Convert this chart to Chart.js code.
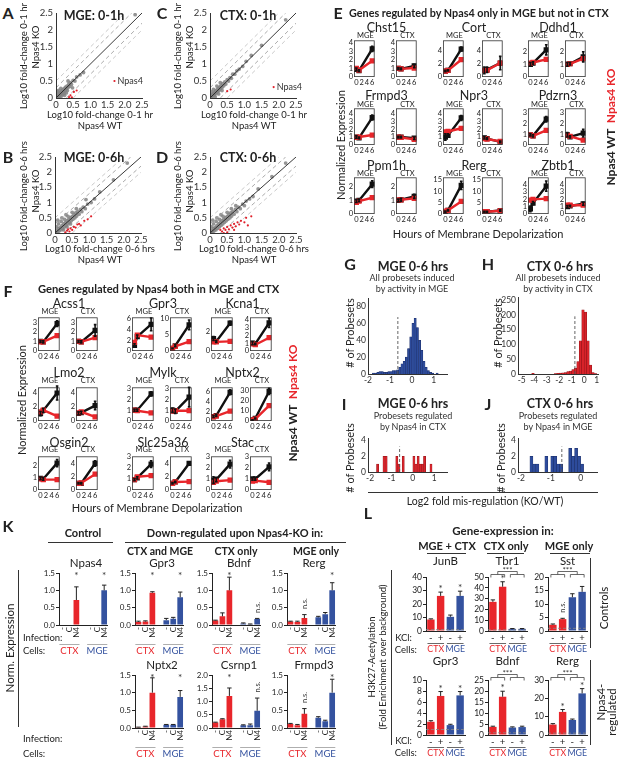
<!DOCTYPE html>
<html><head><meta charset="utf-8">
<script src="https://cdn.jsdelivr.net/npm/chart.js@4.4.0/dist/chart.umd.min.js"></script>
<style>
html,body{margin:0;padding:0;background:#fff;width:622px;height:761px;overflow:hidden;position:relative;}
.t{position:absolute;white-space:nowrap;line-height:1;}
canvas{position:absolute;}
.ln{position:absolute;background:#333;}
</style></head><body>
<script>
const FONT = "Lato, 'Open Sans', sans-serif";
const RED = '#e8262b', BLUE = '#34529f', BLK = '#111';

// ================= DATA =================
// A-D scatter (Log10 fold-change KO vs WT)
const scatterTicks = [0, 0.5, 1, 1.5, 2, 2.5];
const refOffsets = [0.3, -0.3, 0.5, -0.5];
const aGrey = [[0.01,0.02],[0.03,0.06],[0.05,0.03],[0.06,0.1],[0.08,0.06],[0.1,0.12],[0.1,0.03],[0.12,0.16],[0.13,0.09],[0.15,0.13],[0.16,0.2],[0.18,0.15],[0.2,0.1],[0.2,0.24],[0.22,0.19],[0.24,0.28],[0.25,0.15],[0.27,0.23],[0.28,0.32],[0.3,0.27],[0.32,0.35],[0.33,0.22],[0.35,0.31],[0.37,0.4],[0.4,0.34],[0.42,0.45],[0.45,0.4],[0.5,0.52],[0.55,0.5],[0.02,0.14],[0.04,0.2],[0.08,0.22],[0.14,0.28],[0.06,0.0],[0.15,0.05],[0.25,0.08],[0.3,0.15],[0.6,0.62],[0.7,0.68],[0.35,0.5],[0.48,0.3],[0.8,0.75],[2.3,2.45]];
const aRed = [[1.7,0.5],[0.38,0.03],[0.42,0.08],[0.46,0.02],[0.52,0.18],[0.6,0.22]];
const bGrey = [[0.02,0.02],[0.05,0.08],[0.08,0.03],[0.1,0.14],[0.12,0.07],[0.15,0.18],[0.17,0.1],[0.2,0.24],[0.22,0.15],[0.25,0.3],[0.27,0.2],[0.3,0.34],[0.32,0.25],[0.35,0.4],[0.37,0.3],[0.4,0.45],[0.42,0.35],[0.45,0.5],[0.47,0.4],[0.5,0.55],[0.52,0.45],[0.55,0.6],[0.58,0.5],[0.6,0.66],[0.63,0.56],[0.66,0.7],[0.7,0.62],[0.74,0.78],[0.78,0.7],[0.82,0.85],[0.88,0.8],[0.95,0.95],[1.05,1.0],[1.15,1.12],[0.05,0.2],[0.1,0.3],[0.18,0.38],[0.28,0.45],[0.38,0.55],[0.5,0.68],[0.62,0.8],[0.08,0.42],[0.2,0.5],[0.32,0.6],[0.25,0.1],[0.35,0.2],[0.45,0.3],[1.3,1.35],[2.1,2.3],[1.7,1.75],[0.9,1.1]];
const bRed = [[0.3,0.02],[0.35,0.08],[0.38,0.12],[0.42,0.05],[0.45,0.15],[0.5,0.1],[0.55,0.2],[0.6,0.18],[0.65,0.28],[0.7,0.3],[0.75,0.25],[0.85,0.4],[0.95,0.45],[1.05,0.55]];
const cGrey = [[0.01,0.02],[0.03,0.06],[0.05,0.03],[0.06,0.1],[0.08,0.06],[0.1,0.12],[0.12,0.16],[0.13,0.09],[0.15,0.13],[0.16,0.2],[0.18,0.15],[0.2,0.24],[0.22,0.19],[0.24,0.28],[0.26,0.22],[0.28,0.32],[0.3,0.27],[0.32,0.36],[0.35,0.31],[0.37,0.42],[0.4,0.36],[0.43,0.47],[0.46,0.41],[0.5,0.54],[0.54,0.5],[0.58,0.6],[0.62,0.58],[0.66,0.7],[0.72,0.7],[0.78,0.8],[0.85,0.85],[0.95,0.93],[1.05,1.08],[0.04,0.18],[0.1,0.25],[0.2,0.35],[0.3,0.45],[0.15,0.04],[0.25,0.12],[0.35,0.22],[1.2,1.25],[1.5,1.55],[2.2,2.3]];
const cRed = [[1.85,0.32],[0.5,0.2],[0.6,0.25]];
const dGrey = [[0.02,0.02],[0.05,0.08],[0.08,0.03],[0.1,0.14],[0.12,0.07],[0.15,0.18],[0.17,0.1],[0.2,0.24],[0.22,0.15],[0.25,0.3],[0.27,0.2],[0.3,0.34],[0.32,0.25],[0.35,0.4],[0.37,0.3],[0.4,0.45],[0.42,0.35],[0.45,0.5],[0.47,0.4],[0.5,0.55],[0.52,0.45],[0.55,0.6],[0.58,0.5],[0.6,0.66],[0.63,0.56],[0.66,0.7],[0.7,0.62],[0.74,0.78],[0.78,0.7],[0.82,0.85],[0.88,0.8],[0.95,0.95],[1.0,0.9],[1.05,1.05],[1.15,1.12],[1.25,1.2],[0.05,0.2],[0.1,0.3],[0.18,0.38],[0.28,0.45],[0.38,0.55],[0.5,0.68],[0.62,0.8],[0.75,0.9],[0.08,0.42],[0.2,0.5],[0.32,0.6],[1.4,1.45],[1.8,1.85],[2.2,2.3]];
const dRed = [[0.3,0.1],[0.35,0.05],[0.4,0.15],[0.45,0.1],[0.5,0.2],[0.55,0.12],[0.6,0.25],[0.65,0.18],[0.7,0.3],[0.75,0.22],[0.8,0.35],[0.85,0.28],[0.9,0.4],[1.0,0.35],[1.05,0.5],[1.2,0.55],[0.5,0.02],[0.4,0.0],[0.7,0.1],[1.1,0.25]];
const npas4A = [1.7, 0.5];
const npas4C = [1.85, 0.32];

// E / F time courses
const hours = [0, 1, 6];
const hourTicks = [0, 2, 4, 6];
const eGenes = ['Chst15','Cort','Ddhd1','Frmpd3','Npr3','Pdzrn3','Ppm1h','Rerg','Zbtb1'];
const eYMax = [4.3, 5.5, 2.9, 4.6, 4.6, 3.4, 2.7, 16, 5];
const eYTicks = [[0,1,2,3,4],[0,2,4],[0,1,2],[0,1,2,3,4],[0,1,2,3,4],[0,1,2,3],[0,1,2],[0,5,10,15],[0,1,2,3,4]];
const eMgeWT = [[0.9,0.75,3.3],[0.9,1.0,4.2],[1.0,1.1,2.15],[1.0,0.9,3.45],[1.0,1.2,3.4],[0.95,0.85,2.4],[0.95,1.0,2.2],[1.0,1.6,12.5],[0.7,1.5,3.8]];
const eMgeKO = [[1.0,0.8,1.9],[0.9,1.0,2.6],[1.1,1.15,1.4],[0.95,1.0,1.25],[1.65,1.7,2.1],[0.95,0.85,1.35],[0.85,0.95,1.2],[1.3,1.6,5.5],[1.9,2.0,2.1]];
const eMgeWTErr = [[0.15,0.1,0.3],[0.1,0.1,0.3],[0.15,0.1,0.4],[0.15,0.1,0.3],[0.4,0.2,0.3],[0.1,0.1,0.25],[0.1,0.1,0.25],[0.3,0.3,1.8],[0.4,0.2,0.7]];
const eCtxWT = [[1.0,0.95,1.3],[1.0,1.1,2.1],[1.0,1.05,1.6],[1.0,1.0,0.85],[0.9,0.8,0.4],[0.95,0.75,1.1],[1.0,1.05,1.3],[1.0,1.0,1.5],[1.0,1.1,1.4]];
const eCtxKO = [[1.0,0.95,1.05],[1.0,1.0,2.1],[1.0,1.05,1.45],[1.0,0.95,0.7],[0.8,0.75,0.45],[0.9,0.8,0.45],[1.05,1.05,1.15],[1.0,1.0,1.4],[1.2,1.2,1.2]];
const eCtxWTErr = [[0.1,0.1,0.2],[0.5,0.4,1.0],[0.15,0.1,0.4],[0.1,0.1,0.15],[0.15,0.1,0.1],[0.2,0.1,0.35],[0.1,0.1,0.15],[0.2,0.2,0.3],[0.15,0.1,0.2]];

const fGenes = ['Acss1','Gpr3','Kcna1','Lmo2','Mylk','Nptx2','Osgin2','Slc25a36','Stac'];
const fMgeYMax = [3.5, 6.3, 3.5, 4.8, 3.1, 6.8, 2.75, 3.05, 3.05];
const fMgeYTicks = [[0,1,2,3],[0,2,4,6],[0,2],[0,2,4],[0,1,2,3],[0,2,4,6],[0,1,2],[0,1,2,3],[0,1,2,3]];
const fCtxYMax = [3.5, 10.3, 4.3, 4.8, 3.1, 33, 5, 5, 3.05];
const fCtxYTicks = [[0,1,2,3],[0,5,10],[0,1,2,3,4],[0,2,4],[0,1,2,3],[0,10,20,30],[0,2,4],[0,2,4],[0,1,2,3]];
const fMgeWT = [[1.0,0.95,2.85],[1.05,2.7,5.0],[1.3,1.0,2.9],[1.05,1.5,4.0],[1.0,1.0,2.5],[0.9,1.1,5.8],[0.95,0.9,2.2],[0.95,1.1,2.35],[0.9,0.95,2.35]];
const fMgeKO = [[0.95,0.95,1.6],[1.6,3.0,2.6],[0.95,0.95,1.0],[1.3,1.55,0.7],[1.0,0.95,0.75],[0.85,1.0,2.0],[0.9,0.85,0.85],[0.95,1.2,1.3],[0.7,0.8,0.9]];
const fMgeWTErr = [[0.1,0.1,0.3],[0.3,0.3,1.2],[0.2,0.1,0.2],[0.3,0.3,1.0],[0.1,0.1,0.2],[0.2,0.2,0.5],[0.1,0.1,0.3],[0.1,0.1,0.3],[0.3,0.2,0.35]];
const fCtxWT = [[1.0,0.95,2.15],[0.8,1.6,8.0],[1.0,0.9,3.6],[1.1,1.2,2.2],[1.0,0.9,2.2],[1.0,2.5,29],[1.0,1.0,3.95],[1.0,1.2,3.95],[1.0,1.0,2.1]];
const fCtxKO = [[1.0,0.95,1.4],[0.8,1.4,2.9],[0.9,0.8,1.7],[1.15,1.3,0.6],[0.9,0.95,0.95],[1.0,1.8,15],[1.0,1.05,2.35],[1.0,1.2,1.25],[0.8,0.85,0.7]];
const fCtxWTErr = [[0.1,0.1,0.6],[0.1,0.3,1.5],[0.2,0.1,0.6],[0.2,0.2,0.6],[0.2,0.2,0.9],[0.2,0.5,3],[0.1,0.1,0.4],[0.1,0.1,0.2],[0.1,0.1,0.35]];

// G-J histograms (Log2 fold mis-regulation KO/WT)
const gBins = [-1.75,-1.65,-1.55,-1.45,-1.35,-1.25,-1.15,-1.05,-0.95,-0.85,-0.75,-0.65,-0.55,-0.45,-0.35,-0.25,-0.15,-0.05,0.05,0.15,0.25,0.35,0.45,0.55,0.65,0.75,0.85,0.95,1.05,1.15,1.25];
const gCounts = [1,1,2,3,3,2,2,3,3,4,4,5,8,12,15,20,30,44,60,66,55,40,28,15,8,4,2,1,0,1,0];
const hBins = [-4.1,-2.3,-2.1,-1.9,-1.7,-1.5,-1.3,-1.1,-0.9,-0.7,-0.5,-0.3,-0.1,0.1,0.3,0.5,0.7,0.9];
const hCounts = [2,1,2,3,4,5,8,10,15,20,42,112,217,209,112,30,5,1];
const iBins = [-1.65,-1.35,-1.25,-0.75,-0.65,-0.45,0.05,0.15,0.25,0.35,0.45,0.55,0.85];
const iCounts = [1,2,2,2,1,2,2,1,2,1,1,2,1];
const jBins = [-1.65,-1.55,-1.45,-1.15,-0.95,-0.85,-0.75,-0.65,-0.35,-0.25,-0.15,-0.05,0.05];
const jCounts = [2,1,1,2,2,2,1,1,3,2,3,2,1];
const histCutoffs = [-0.64, -0.75, -0.62, -0.63];

// K qPCR
const kLabels = ['-','C','N4','','-','C','N4'];
const kGenes = ['Npas4','Gpr3','Bdnf','Rerg','Nptx2','Csrnp1','Frmpd3'];
const kVals = [[0,0,0.72,null,0,0,1.0],[0.09,0.1,0.93,null,0.14,0.18,0.8],[0.13,0.25,1.0,null,0.04,0.02,0.17],[0.1,0.09,0.2,null,0.22,0.31,1.0],[0.02,0.04,1.0,null,0.09,0.09,0.88],[0.21,0.33,1.21,null,0.1,0.1,0.65],[0.11,0.08,0.4,null,0.29,0.19,1.0]];
const kErr = [[0,0,0.38,0,0,0,0.15],[0.02,0.02,0.03,0,0.05,0.04,0.15],[0.01,0.1,0.38,0,0.02,0.01,0.02],[0.01,0.02,0.1,0,0.03,0.05,0.22],[0.005,0.01,0.42,0,0.01,0.01,0.18],[0.01,0.02,0.3,0,0.02,0.05,0.48],[0.02,0.02,0.15,0,0.03,0.03,0.38]];
const kMarks = [['','','*','','','','*'],['','','*','','','','*'],['','','*','','','','n.s.'],['','','n.s.','','','','*'],['','','*','','','','*'],['','','*','','','','n.s.'],['','','n.s.','','','','*']];
const kYMax = [1.5,1.5,1.5,1.5,1.5,2.0,1.5];
const kYTicks = [[0,0.5,1,1.5],[0,0.5,1,1.5],[0,0.5,1,1.5],[0,0.5,1,1.5],[0,0.5,1,1.5],[0,0.5,1,1.5,2],[0,0.5,1,1.5]];

// L ChIP
const lLabels = ['-','+','-','+'];
const lGenes = ['JunB','Tbr1','Sst','Gpr3','Bdnf','Rerg'];
const lVals = [[8.5,26,10.5,26],[27,41,2,2],[2.3,4.4,12.5,14.5],[2.4,7.1,1.8,7.2],[3.7,17.4,3.4,3.6],[5.7,12.6,8.2,22.7]];
const lErr = [[0.5,2.8,1.3,3.5],[1.8,4.6,0.3,0.3],[0.3,0.3,1.3,2.0],[0.2,0.8,0.15,0.7],[0.3,2.5,0.3,0.4],[0.5,1.3,0.5,2.6]];
const lMarks = [['','*','','*'],['','*','',''],['','n.s.','',''],['','*','','*'],['','*','',''],['','*','','*']];
const lBracket = [false,true,true,false,true,true];
const lYMax = [40,50,20,10,25,30];
const lYTicks = [[0,10,20,30,40],[0,10,20,30,40,50],[0,5,10,15,20],[0,2,4,6,8,10],[0,5,10,15,20,25],[0,10,20,30]];
const lBaseline = 1;

// ================= HELPERS =================
Chart.defaults.font.family = FONT;
Chart.defaults.color = '#222';
Chart.defaults.animation = false;
Chart.defaults.responsive = false;
Chart.defaults.events = [];
Chart.defaults.plugins.legend.display = false;
Chart.defaults.plugins.tooltip.enabled = false;

Chart.register({
  id: 'deco',
  afterDraw(chart) {
    const d = chart.canvas._deco || {};
    const ctx = chart.ctx, A = chart.chartArea, xs = chart.scales.x, ys = chart.scales.y;
    ctx.save();
    if (d.yAxis) {
      ctx.strokeStyle = '#333'; ctx.lineWidth = 1;
      ctx.beginPath(); ctx.moveTo(A.left + 0.5, A.top); ctx.lineTo(A.left + 0.5, A.bottom); ctx.stroke();
      ctx.fillStyle = '#333'; ctx.font = `9.5px ${FONT}`; ctx.textAlign = 'right'; ctx.textBaseline = 'middle';
      d.yAxis.forEach(v => ctx.fillText(String(v), A.left - 3, ys.getPixelForValue(v)));
    }
    if (d.frame) {
      ctx.strokeStyle = '#333'; ctx.lineWidth = 0.8;
      ctx.strokeRect(A.left + 0.4, A.top + 0.4, A.right - A.left - 0.8, A.bottom - A.top - 0.8);
    }
    if (d.hline != null) {
      const py = ys.getPixelForValue(d.hline);
      ctx.setLineDash([3, 2]); ctx.strokeStyle = '#888'; ctx.lineWidth = 0.8;
      ctx.beginPath(); ctx.moveTo(A.left, py); ctx.lineTo(A.right, py); ctx.stroke(); ctx.setLineDash([]);
    }
    if (d.vline != null) {
      const px = xs.getPixelForValue(d.vline);
      ctx.setLineDash([3, 2]); ctx.strokeStyle = '#555'; ctx.lineWidth = 0.9;
      ctx.beginPath(); ctx.moveTo(px, A.bottom); ctx.lineTo(px, A.bottom - (A.bottom - A.top) * 0.75); ctx.stroke(); ctx.setLineDash([]);
    }
    chart.data.datasets.forEach((ds, i) => {
      const meta = chart.getDatasetMeta(i);
      if (ds.err) {
        meta.data.forEach((el, j) => {
          const e = ds.err[j]; const raw = ds.data[j];
          const v = raw && typeof raw === 'object' ? raw.y : raw;
          if (v == null || !e) return;
          const top = ys.getPixelForValue(v + e);
          const bot = ds.errUp ? ys.getPixelForValue(v) : ys.getPixelForValue(Math.max(0, v - e));
          const cap = ds.errUp ? 2.2 : 1.3;
          ctx.strokeStyle = ds.errColor || '#111'; ctx.lineWidth = ds.errUp ? 1 : 1.6;
          ctx.beginPath(); ctx.moveTo(el.x, bot); ctx.lineTo(el.x, top);
          ctx.moveTo(el.x - cap, top); ctx.lineTo(el.x + cap, top);
          if (!ds.errUp) { ctx.moveTo(el.x - cap, bot); ctx.lineTo(el.x + cap, bot); }
          ctx.stroke();
        });
      }
      if (ds.marks) {
        meta.data.forEach((el, j) => {
          const m = ds.marks[j]; if (!m) return;
          const v = ds.data[j] || 0; const e = ds.err ? (ds.err[j] || 0) : 0;
          const top = ys.getPixelForValue(v + e);
          ctx.fillStyle = '#333';
          if (m === '*') {
            ctx.font = `10px ${FONT}`; ctx.textAlign = 'center'; ctx.textBaseline = 'middle';
            const py = d.starTop ? A.top + 3 : top - 3;
            ctx.fillText('*', el.x, py);
          } else {
            ctx.save(); ctx.translate(el.x, top - 11); ctx.rotate(-Math.PI / 2);
            ctx.font = `7.5px ${FONT}`; ctx.textAlign = 'center'; ctx.textBaseline = 'middle';
            ctx.fillText(m, 0, 0); ctx.restore();
          }
        });
      }
    });
    if (d.groups) {
      const g = d.groups;
      const cw = xs.getPixelForValue(1) - xs.getPixelForValue(0);
      g.ranges.forEach((r, k) => {
        const x0 = xs.getPixelForValue(r[0]) - cw * g.ext, x1 = xs.getPixelForValue(r[1]) + cw * g.ext;
        ctx.strokeStyle = g.lineColor; ctx.lineWidth = 0.8;
        ctx.beginPath(); ctx.moveTo(x0, A.bottom + g.lineY + 0.5); ctx.lineTo(x1, A.bottom + g.lineY + 0.5); ctx.stroke();
        ctx.fillStyle = g.colors[k]; ctx.font = `${g.size}px ${FONT}`; ctx.textAlign = 'center'; ctx.textBaseline = 'middle';
        ctx.fillText(g.names[k], (x0 + x1) / 2, A.bottom + g.textY);
      });
    }
    if (d.bracket) {
      const p = j => xs.getPixelForValue(j);
      const m1 = (p(0) + p(1)) / 2, m2 = (p(2) + p(3)) / 2;
      ctx.strokeStyle = '#444'; ctx.lineWidth = 0.8;
      const yT = A.top - 5.5, yP = A.top - 2.5, yE = A.top + 0.5;
      ctx.beginPath();
      ctx.moveTo(m1, yP); ctx.lineTo(m1, yT); ctx.lineTo(m2, yT); ctx.lineTo(m2, yP);
      [[0, 1], [2, 3]].forEach(([a, b]) => { ctx.moveTo(p(a) - 2, yE); ctx.lineTo(p(a) - 2, yP); ctx.lineTo(p(b) + 2, yP); ctx.lineTo(p(b) + 2, yE); });
      ctx.stroke();
      ctx.fillStyle = '#333'; ctx.font = `8px ${FONT}`; ctx.textAlign = 'center'; ctx.textBaseline = 'middle';
      ctx.fillText('***', (m1 + m2) / 2, yT - 1.5);
    }
    if (d.ptLabel) {
      const px = xs.getPixelForValue(d.ptLabel.x), py = ys.getPixelForValue(d.ptLabel.y);
      ctx.fillStyle = '#333'; ctx.font = `9px ${FONT}`; ctx.textAlign = 'left'; ctx.textBaseline = 'middle';
      ctx.fillText(d.ptLabel.text, px + 3, py);
    }
    ctx.restore();
  }
});

const setTicks = vals => (s => { s.ticks = vals.map(v => ({ value: v })); });

function mk(box, config, deco) {
  const { x, y, w, h, l, b, t = 6, r = 4, pl = 0 } = box;
  const c = document.createElement('canvas');
  const W = pl + l + w + r, H = t + h + b;
  c.width = W; c.height = H;
  c.style.left = (x - l - pl) + 'px'; c.style.top = (y - t) + 'px';
  c.style.width = W + 'px'; c.style.height = H + 'px';
  c._deco = deco || {};
  document.body.appendChild(c);
  const o = config.options;
  o.devicePixelRatio = 1;
  o.layout = { padding: { top: t, right: r, left: pl, bottom: 0 } };
  o.scales.x.afterFit = s => { s.height = b; };
  o.scales.y.afterFit = s => { s.width = l; };
  o.scales.x.ticks.autoSkip = false;
  o.scales.y.ticks.autoSkip = false;
  return new Chart(c, config);
}

function T(html, x, y, o = {}) {
  const d = document.createElement('div');
  d.className = 't';
  d.innerHTML = html;
  const ax = o.a === 'l' ? '0' : o.a === 'r' ? '-100%' : '-50%';
  d.style.left = x + 'px'; d.style.top = y + 'px';
  d.style.font = `${o.w || 400} ${o.s || 10}px ${FONT}`;
  d.style.color = o.c || '#222';
  d.style.transform = `translate(${ax},-50%)` + (o.r ? ` rotate(${o.r}deg)` : '');
  document.body.appendChild(d);
}
function HL(x1, x2, y, c = '#333', w = 1) {
  const d = document.createElement('div'); d.className = 'ln';
  d.style.cssText += `left:${x1}px;top:${y}px;width:${x2 - x1}px;height:${w}px;background:${c}`;
  document.body.appendChild(d);
}
function VL(x, y1, y2, c = '#333', w = 1) {
  const d = document.createElement('div'); d.className = 'ln';
  d.style.cssText += `left:${x}px;top:${y1}px;width:${w}px;height:${y2 - y1}px;background:${c}`;
  document.body.appendChild(d);
}
const pts = arr => arr.map(p => ({ x: p[0], y: p[1] }));

// ================= A-D SCATTER =================
function scatter(box, grey, red, lbl) {
  const lines = [{ data: [{ x: 0, y: 0 }, { x: 2.5, y: 2.5 }], borderColor: '#222', dash: [] }]
    .concat(refOffsets.map(o => ({
      data: [{ x: Math.max(0, -o), y: Math.max(0, o) }, { x: Math.min(2.5, 2.5 - o), y: Math.min(2.5, 2.5 + o) }],
      borderColor: Math.abs(o) > 0.4 ? '#c4c4c4' : '#a0a0a0', dash: [4, 3]
    })));
  const deco = { yAxis: scatterTicks };
  if (lbl) deco.ptLabel = { x: lbl[0], y: lbl[1], text: 'Npas4' };
  mk(box, {
    type: 'scatter',
    data: { datasets: [
      { data: pts(red), backgroundColor: '#e0202a', pointRadius: 1.1, borderWidth: 0 },
      ...lines.map(L => ({ type: 'line', data: L.data, borderColor: L.borderColor, borderWidth: 0.9, borderDash: L.dash, pointRadius: 0, fill: false })),
      { data: pts(grey), backgroundColor: 'rgba(130,130,130,0.85)', pointRadius: 1.9, borderWidth: 0 }
    ] },
    options: { scales: {
      x: { type: 'linear', min: 0, max: 2.5, afterBuildTicks: setTicks(scatterTicks), ticks: { font: { size: 9.5 }, padding: 1, color: '#333', maxRotation: 0 }, grid: { display: false, drawTicks: false }, border: { display: true, color: '#333' } },
      y: { type: 'linear', display: false, min: 0, max: 2.5, afterBuildTicks: setTicks(scatterTicks), ticks: {}, grid: { display: false } }
    } }
  }, deco);
}
scatter({ x: 56, y: 13, w: 86, h: 85, l: 0, pl: 20, b: 12, t: 6, r: 8 }, aGrey, aRed, npas4A);
scatter({ x: 210, y: 13, w: 86, h: 85, l: 0, pl: 20, b: 12, t: 6, r: 8 }, cGrey, cRed, npas4C);
scatter({ x: 55, y: 157, w: 86, h: 76, l: 0, pl: 20, b: 12, t: 6, r: 8 }, bGrey, bRed, null);
scatter({ x: 210, y: 157, w: 86, h: 76, l: 0, pl: 20, b: 12, t: 6, r: 8 }, dGrey, dRed, null);

[['A', 'MGE: 0-1h', '0-1 hr', 0, 0], ['C', 'CTX: 0-1h', '0-1 hr', 154, 0], ['B', 'MGE: 0-6h', '0-6 hrs', 0, 144], ['D', 'CTX: 0-6h', '0-6 hrs', 154, 144]].forEach(([L, title, tm, dx, dy]) => {
  T(L, 8 + dx, 12 + dy, { w: 700, s: 16 });
  T(title, 94 + dx, 15 + dy + (dy ? -2 : 0), { w: 700, s: 12.5 });
  T('Log10 fold-change ' + tm, 23 + dx, 56 + dy + (dy ? -4 : 0), { s: 9.5, r: -90 });
  T('Npas4 KO', 35 + dx, 47 + dy, { s: 9.5, r: -90 });
  T('Log10 fold-change ' + tm, 100 + dx, 114 + dy + (dy ? -10 : 0), { s: 9.5 });
  T('Npas4 WT', 100 + dx, 125 + dy + (dy ? -10 : 0), { s: 9.5 });
});

// ================= E / F small line charts =================
function small(x, y, w, h, yMax, yTicks, wt, ko, wtErr) {
  const axis = (extra) => Object.assign({ ticks: { font: { size: 7.5 }, padding: 1, color: '#222', maxRotation: 0 }, grid: { display: false, drawTicks: false }, border: { display: false } }, extra);
  mk({ x, y, w, h, l: 13, b: 11, t: 6, r: 4 }, {
    type: 'line',
    data: { datasets: [
      { data: hours.map((t, i) => ({ x: t, y: ko[i] })), borderColor: RED, backgroundColor: RED, borderWidth: 2.4, pointStyle: 'rect', pointRadius: 2, tension: 0 },
      { data: hours.map((t, i) => ({ x: t, y: wt[i] })), borderColor: BLK, backgroundColor: BLK, borderWidth: 2.4, pointStyle: 'rect', pointRadius: 2, tension: 0, err: wtErr, errColor: BLK }
    ] },
    options: { scales: {
      x: axis({ type: 'linear', min: -0.9, max: 6.9, afterBuildTicks: setTicks(hourTicks) }),
      y: axis({ type: 'linear', min: 0, max: yMax, afterBuildTicks: setTicks(yTicks) })
    } }
  }, { frame: true });
}

const eMgeX = [354, 443, 528], eCtxX = [396, 482, 565], eRowY = [40, 108, 177];
const eNameY = [27, 95, 165], eSubY = [35, 104, 173];
eGenes.forEach((g, i) => {
  const c = i % 3, r = Math.floor(i / 3);
  small(eMgeX[c], eRowY[r], 23, 37, eYMax[i], eYTicks[i], eMgeWT[i], eMgeKO[i], eMgeWTErr[i]);
  small(eCtxX[c], eRowY[r], 23, 37, eYMax[i], eYTicks[i], eCtxWT[i], eCtxKO[i], eCtxWTErr[i]);
  T(g, (eMgeX[c] + eCtxX[c] + 23) / 2, eNameY[r], { s: 12.5 });
  T('MGE', eMgeX[c] + 11.5, eSubY[r], { s: 7.5 });
  T('CTX', eCtxX[c] + 11.5, eSubY[r], { s: 7.5 });
});
T('E', 338, 12, { w: 700, s: 16 });
T('Genes regulated by Npas4 only in MGE but not in CTX', 349, 12, { a: 'l', w: 700, s: 10.8 });
T('Normalized Expression', 340, 145, { s: 11, r: -90 });
T('Hours of Membrane Depolarization', 478, 233, { s: 11 });
T('Npas4 WT&nbsp;&nbsp;<span style="color:' + RED + '">Npas4 KO</span>', 610, 127, { w: 700, s: 12, r: -90 });

const fMgeX = [38, 132, 211], fCtxX = [76, 170, 250], fRowY = [317, 387, 456];
const fNameY = [303, 372, 442], fSubY = [311, 380, 449];
fGenes.forEach((g, i) => {
  const c = i % 3, r = Math.floor(i / 3);
  small(fMgeX[c], fRowY[r], 24, 34, fMgeYMax[i], fMgeYTicks[i], fMgeWT[i], fMgeKO[i], fMgeWTErr[i]);
  small(fCtxX[c], fRowY[r], 24, 34, fCtxYMax[i], fCtxYTicks[i], fCtxWT[i], fCtxKO[i], fCtxWTErr[i]);
  T(g, (fMgeX[c] + fCtxX[c] + 24) / 2, fNameY[r], { s: 12.5 });
  T('MGE', fMgeX[c] + 12, fSubY[r], { s: 7.5 });
  T('CTX', fCtxX[c] + 12, fSubY[r], { s: 7.5 });
});
T('F', 8, 290, { w: 700, s: 16 });
T('Genes regulated by Npas4 both in MGE and CTX', 38, 288, { a: 'l', w: 700, s: 11.2 });
T('Normalized Expression', 21, 400, { s: 11, r: -90 });
T('Hours of Membrane Depolarization', 157, 507, { s: 11 });
T('Npas4 WT&nbsp;&nbsp;<span style="color:' + RED + '">Npas4 KO</span>', 292, 403, { w: 700, s: 12, r: -90 });

// ================= G-J histograms =================
function hist(box, bins, counts, xmin, xmax, xticks, ymax, yticks, color, edge, cut) {
  mk(box, {
    type: 'bar',
    data: { datasets: [{ data: bins.map((b, i) => ({ x: b, y: counts[i] })), backgroundColor: color, borderColor: edge, borderWidth: 0.5, barPercentage: 1, categoryPercentage: 1 }] },
    options: { scales: {
      x: { type: 'linear', offset: false, min: xmin, max: xmax, afterBuildTicks: setTicks(xticks), ticks: { font: { size: 8.5 }, padding: 1, color: '#333', maxRotation: 0 }, grid: { display: false, drawTicks: false }, border: { display: true, color: '#333' } },
      y: { type: 'linear', min: 0, max: ymax, afterBuildTicks: setTicks(yticks), ticks: { font: { size: 8.5 }, padding: 2, color: '#333' }, grid: { display: false, drawTicks: false }, border: { display: true, color: '#333' } }
    } }
  }, { vline: cut });
}
hist({ x: 368, y: 297, w: 79, h: 77, l: 16, b: 12, t: 6, r: 6 }, gBins, gCounts, -2, 1.6, [-2, -1, 0, 1], 90, [0, 20, 40, 60, 80], '#2d4b9b', '#1b2d66', histCutoffs[0]);
hist({ x: 518, y: 296, w: 80, h: 78, l: 18, b: 12, t: 6, r: 6 }, hBins, hCounts, -5.3, 1.1, [-5, -4, -3, -2, -1, 0, 1], 260, [0, 50, 100, 150, 200, 250], '#d8232a', '#8c1419', histCutoffs[1]);
hist({ x: 368, y: 437, w: 79, h: 35, l: 16, b: 12, t: 6, r: 6 }, iBins, iCounts, -2.1, 1.6, [-2, -1, 0, 1], 4.3, [0, 2, 4], '#d8232a', '#8c1419', histCutoffs[2]);
hist({ x: 518, y: 437, w: 79, h: 35, l: 16, b: 12, t: 6, r: 6 }, jBins, jCounts, -2.1, 0.55, [-2, -1, 0], 4.3, [0, 2, 4], '#2d4b9b', '#1b2d66', histCutoffs[3]);

T('G', 350, 263, { w: 700, s: 16 });
T('MGE 0-6 hrs', 413, 266, { w: 700, s: 12.5 });
T('All probesets induced', 412, 277, { s: 9, c: '#333' });
T('by activity in MGE', 412, 288, { s: 9, c: '#333' });
T('# of Probesets', 349, 333, { s: 11, r: -90 });
T('H', 488, 263, { w: 700, s: 16 });
T('CTX 0-6 hrs', 560, 266, { w: 700, s: 12.5 });
T('All probesets induced', 558, 277, { s: 9, c: '#333' });
T('by activity in CTX', 558, 288, { s: 9, c: '#333' });
T('# of Probesets', 497, 333, { s: 11, r: -90 });
T('I', 344, 403, { w: 700, s: 16 });
T('MGE 0-6 hrs', 413, 403, { w: 700, s: 12.5 });
T('Probesets regulated', 413, 415, { s: 9, c: '#333' });
T('by Npas4 in CTX', 413, 426, { s: 9, c: '#333' });
T('# of Probesets', 349, 458, { s: 11, r: -90 });
T('J', 488, 403, { w: 700, s: 16 });
T('CTX 0-6 hrs', 560, 403, { w: 700, s: 12.5 });
T('Probesets regulated', 558, 415, { s: 9, c: '#333' });
T('by Npas4 in MGE', 558, 426, { s: 9, c: '#333' });
T('# of Probesets', 500, 458, { s: 11, r: -90 });
HL(368, 598, 492, '#333', 1);
T('Log2 fold mis-regulation (KO/WT)', 485, 501, { s: 10.5 });

// ================= K =================
const kPos = [[59, 573], [135, 573], [212, 573], [287, 573], [135, 675], [212, 675], [287, 675]];
kGenes.forEach((g, i) => {
  const [x, y] = kPos[i];
  const h = y > 600 ? 53 : 52;
  mk({ x, y, w: 54, h, l: 20, b: 30, t: 8, r: 3 }, {
    type: 'bar',
    data: { labels: kLabels, datasets: [{ data: kVals[i], backgroundColor: kLabels.map((_, j) => j < 3 ? RED : BLUE), barPercentage: 0.82, categoryPercentage: 1, err: kErr[i], errUp: true, errColor: '#222', marks: kMarks[i] }] },
    options: { scales: {
      x: { ticks: { font: { size: 8 }, minRotation: 90, maxRotation: 90, padding: 2, color: '#222' }, grid: { display: false, drawTicks: false }, border: { display: true, color: '#222' } },
      y: { min: 0, max: kYMax[i], afterBuildTicks: setTicks(kYTicks[i]), ticks: { font: { size: 8 }, padding: 1, color: '#222', callback: v => v.toFixed(1) }, grid: { display: true, drawOnChartArea: false, drawTicks: true, tickLength: 3, color: '#222' }, border: { display: true, color: '#222' } }
    } }
  }, { starTop: true, groups: { ranges: [[0, 2], [4, 6]], names: ['CTX', 'MGE'], colors: [RED, BLUE], lineY: 19, textY: 25.5, size: 9.5, lineColor: '#999', ext: 0.45 } });
  T(g, x + 27, y - 11, { s: 11.5 });
});
T('K', 8, 525, { w: 700, s: 16 });
T('Control', 83, 532, { w: 700, s: 11 });
HL(48, 113, 542, '#333', 1);
T('Down-regulated upon Npas4-KO in:', 235, 532, { w: 700, s: 11 });
HL(125, 346, 542, '#333', 1);
T('CTX and MGE', 160, 551, { w: 700, s: 10.5 });
T('CTX only', 236, 551, { w: 700, s: 10.5 });
T('MGE only', 316, 551, { w: 700, s: 10.5 });
T('Infection:', 23, 637, { a: 'l', s: 9.5 });
T('Cells:', 23, 650, { a: 'l', s: 9.5 });
T('Infection:', 23, 738, { a: 'l', s: 9.5 });
T('Cells:', 23, 753, { a: 'l', s: 9.5 });
T('Norm. Expression', 9, 648, { s: 11.5, r: -90 });
VL(18, 570, 727, '#333', 1);

// ================= L =================
const lPos = [[426, 577, 54], [488, 577, 54], [548, 577, 54], [426, 680, 55], [488, 680, 55], [548, 680, 55]];
lGenes.forEach((g, i) => {
  const [x, y, h] = lPos[i];
  mk({ x, y, w: 39, h, l: 18, b: 22, t: 12, r: 3 }, {
    type: 'bar',
    data: { labels: lLabels, datasets: [{ data: lVals[i], backgroundColor: [RED, RED, BLUE, BLUE], barPercentage: 0.76, categoryPercentage: 1, err: lErr[i], errUp: true, errColor: '#222', marks: lMarks[i] }] },
    options: { scales: {
      x: { ticks: { font: { size: 9.5 }, padding: 1, color: '#222', maxRotation: 0 }, grid: { display: false, drawTicks: false }, border: { display: true, color: '#222' } },
      y: { min: 0, max: lYMax[i], afterBuildTicks: setTicks(lYTicks[i]), ticks: { font: { size: 8.5 }, padding: 1, color: '#222' }, grid: { display: true, drawOnChartArea: false, drawTicks: true, tickLength: 3, color: '#222' }, border: { display: true, color: '#222' } }
    } }
  }, { hline: lBaseline, bracket: lBracket[i], groups: { ranges: [[0, 1], [2, 3]], names: ['CTX', 'MGE'], colors: [RED, BLUE], lineY: 12, textY: 18.5, size: 8.8, lineColor: '#444', ext: 0.35 } });
  T(g, x + 19.5, y - (i < 3 ? 17 : 20), { s: 11.5 });
});
T('L', 368, 512, { w: 700, s: 16 });
T('Gene-expression in:', 503, 530, { w: 700, s: 11.5 });
T('MGE + CTX', 447, 545, { w: 700, s: 11 });
T('CTX only', 506, 545, { w: 700, s: 11 });
T('MGE only', 569, 545, { w: 700, s: 11 });
HL(427, 466, 553, '#333', 1);
HL(487, 524, 553, '#333', 1);
HL(550, 590, 553, '#333', 1);
T('KCl:', 412, 637, { a: 'r', s: 9.5 });
T('Cells:', 417, 649, { a: 'r', s: 9.5 });
T('KCl:', 412, 740, { a: 'r', s: 9.5 });
T('Cells:', 417, 752, { a: 'r', s: 9.5 });
T('H3K27-Acetylation', 371, 657, { s: 9.5, r: -90 });
T('(Fold Enrichment over background)', 382, 657, { s: 9.5, r: -90 });
VL(391, 570, 745, '#333', 1);
T('Controls', 603, 608, { s: 11.5, r: -90 });
VL(590, 558, 648, '#333', 1);
T('Npas4-', 600, 702, { s: 11.5, r: -90 });
T('regulated', 611, 712, { s: 11.5, r: -90 });
VL(590, 660, 745, '#333', 1);
</script>
</body></html>
